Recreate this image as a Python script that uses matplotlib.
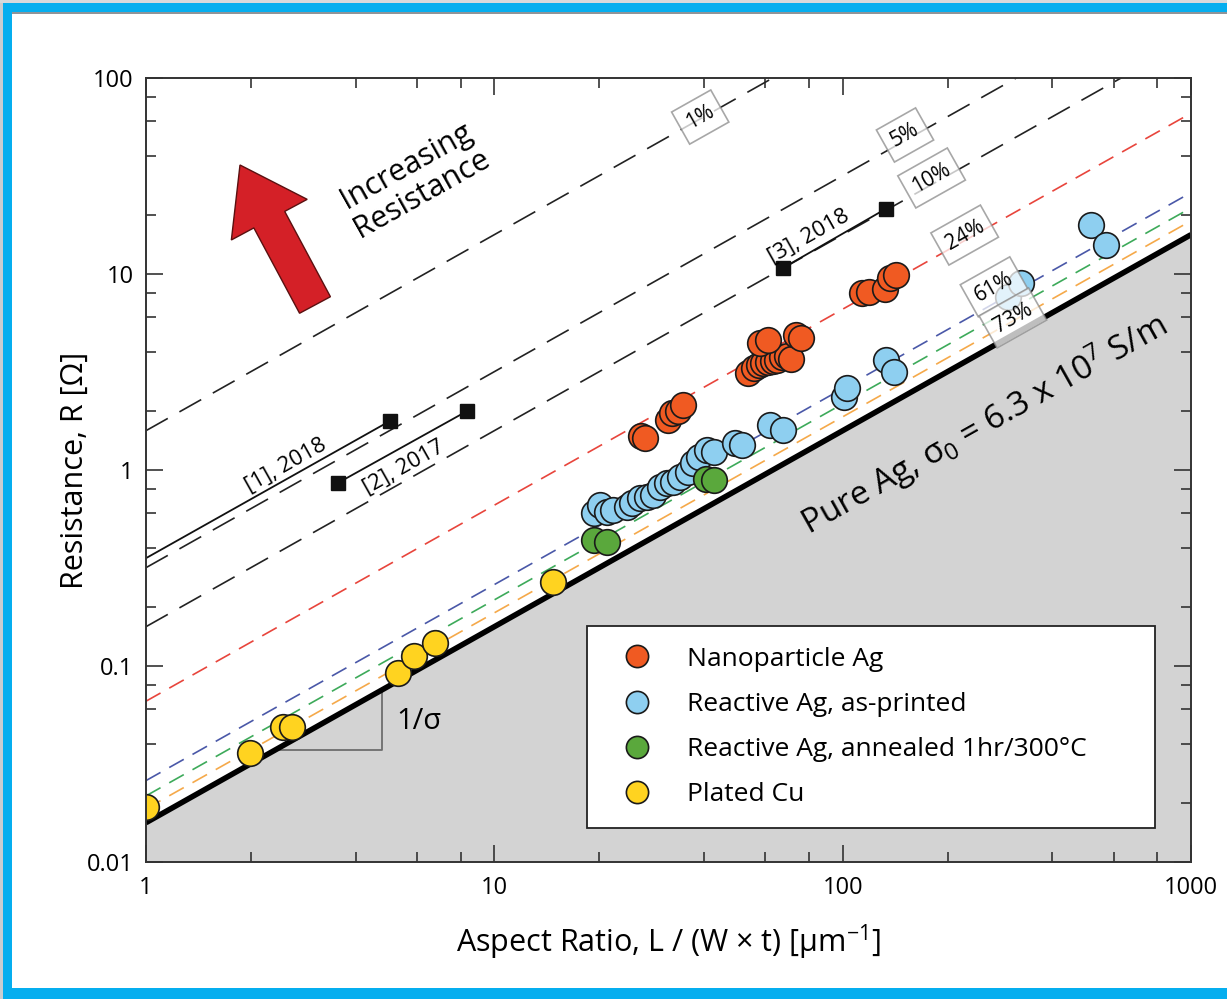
import numpy as np
import matplotlib
matplotlib.use('Agg')
import matplotlib.pyplot as plt
from matplotlib.patches import Rectangle, FancyArrow
from matplotlib.lines import Line2D

plt.rcParams['font.family'] = ['Open Sans', 'DejaVu Sans']
plt.rcParams['mathtext.fontset'] = 'custom'
plt.rcParams['mathtext.rm'] = 'Open Sans'
plt.rcParams['mathtext.it'] = 'Open Sans:italic'

# ---- data ---------------------------------------------------------------
SIGMA0 = 6.3e7                       # S/m, pure Ag
pct_vals = [0.01, 0.05, 0.10, 0.24, 0.61, 0.73, 0.85]
pct_colors = ['#222222', '#222222', '#222222', '#E8453C', '#4A58A8', '#3DAA5A', '#F5A94A']
pct_labels = ['1%', '5%', '10%', '24%', '61%', '73%', None]
pct_lab_x = [39, 151, 180, 224, 272, 308]
pct_lab_y = [63.2, 51.2, 30.9, 15.8, 8.6, 5.97]

np_x = [26.4, 27.1, 31.6, 32.4, 33.7, 34.9, 53.5, 55.6, 57.4, 59, 61, 63, 65, 67, 69, 71,
        58, 60.9, 73.3, 75.8, 114, 118.7, 132, 137, 142]
np_y = [1.49, 1.45, 1.80, 1.95, 2.00, 2.15, 3.13, 3.33, 3.45, 3.50, 3.55, 3.60, 3.65, 3.75, 3.80, 3.70,
        4.45, 4.60, 4.90, 4.70, 8.0, 8.1, 8.4, 9.5, 9.9]

rp_x = [19.3, 20.1, 21.1, 21.9, 24.0, 24.9, 26.2, 27.4, 28.6, 29.9, 31.3, 32.6, 34.2, 35.9, 37.3,
        38.6, 40.9, 42.6, 49.0, 51.4, 61.9, 67.2, 100.7, 103, 133, 140, 298, 325, 516, 570]
rp_y = [0.60, 0.66, 0.61, 0.625, 0.65, 0.68, 0.72, 0.73, 0.745, 0.82, 0.86, 0.87, 0.92, 0.98, 1.09,
        1.16, 1.26, 1.24, 1.37, 1.34, 1.70, 1.60, 2.36, 2.62, 3.64, 3.16, 7.6, 9.0, 17.8, 14.1]

an_x = [19.3, 21.1, 40.4, 42.6]
an_y = [0.44, 0.43, 0.90, 0.89]

cu_x = [1.0, 1.99, 2.48, 2.63, 5.3, 5.89, 6.77, 14.7]
cu_y = [0.019, 0.036, 0.049, 0.049, 0.092, 0.112, 0.131, 0.268]

# literature references: solid segments ending in squares
ref1_x, ref1_y = [1.0, 5.02], [0.355, 1.78]
ref2_x, ref2_y = [3.56, 8.36], [0.86, 2.0]
ref3_x, ref3_y = [67.2, 133], [10.7, 21.5]
ref_labels = ['[1], 2018', '[2], 2017', '[3], 2018']
ref_lab_x = [2.51, 5.48, 79.8]
ref_lab_y = [1.06, 1.04, 15.6]

x_ticks = [1, 10, 100, 1000]
y_ticks = [0.01, 0.1, 1, 10, 100]
y_ticklabels = ['0.01', '0.1', '1', '10', '100']

W, H = 1227, 999
fig = plt.figure(figsize=(W / 100, H / 100), dpi=100)
fig.patch.set_facecolor('#05AEEF')
for r in (Rectangle((12 / W, (H - 988) / H), 1, (988 - 13) / H, fc='white', ec='none'),
          Rectangle((12 / W, 1 - 14 / H), 1, 2 / H, fc='#8f9499', ec='none'),
          Rectangle((0, 0), 3 / W, 1, fc='#C9CDD1', ec='none'),
          Rectangle((0, 1 - 3 / H), 1, 3 / H, fc='#D6D9DC', ec='none')):
    r.set_transform(fig.transFigure)
    r.set_zorder(-10)
    fig.add_artist(r)

ax = fig.add_axes([146 / W, (H - 862) / H, (1191 - 146) / W, (862 - 78) / H])
ax.set_xscale('log'); ax.set_yscale('log')
ax.set_xlim(1, 1000); ax.set_ylim(0.01, 100)
ax.patch.set_alpha(0)

p1 = ax.transData.transform((1, 1)); p2 = ax.transData.transform((10, 10))
ang = np.degrees(np.arctan2(p2[1] - p1[1], p2[0] - p1[0]))

xx = np.array([1.0, 1000.0])
r_bulk = xx * 1e6 / SIGMA0
ax.fill_between(xx, 1e-4, r_bulk, color='#D3D3D3', lw=0, zorder=1)
ax.plot(xx, r_bulk, color='black', lw=4.0, zorder=4, solid_capstyle='butt')

for p, c in zip(pct_vals, pct_colors):
    ln, = ax.plot(xx, r_bulk / p, color=c, lw=1.2, zorder=2)
    if c == '#222222':
        ln.set_dashes((15, 8))
    else:
        ln.set_dashes((10, 6))

for lab, lx, ly in zip(pct_labels[:6], pct_lab_x, pct_lab_y):
    ax.text(lx, ly, lab, rotation=ang, rotation_mode='anchor', ha='center', va='center',
            fontsize=15, zorder=8,
            bbox=dict(boxstyle='square,pad=0.38', fc='white', ec='#8a8a8a', lw=1.2, alpha=0.75))

# reference segments
for rx, ry in ((ref1_x, ref1_y), (ref2_x, ref2_y), (ref3_x, ref3_y)):
    ax.plot(rx, ry, color='#111111', lw=1.3, zorder=5)
ax.plot(ref1_x[1:] + ref2_x + ref3_x, ref1_y[1:] + ref2_y + ref3_y, 's', color='#111111',
        ms=10.5, zorder=6)
for lab, lx, ly in zip(ref_labels, ref_lab_x, ref_lab_y):
    ax.text(lx, ly, lab, rotation=ang, rotation_mode='anchor', ha='center', va='center',
            fontsize=16, zorder=7)

# data points
kw = dict(s=340, edgecolors='#1a1a1a', linewidths=1.2, zorder=6)
ax.scatter(cu_x, cu_y, c='#FFD320', clip_on=True, **kw)
ax.scatter(rp_x, rp_y, c='#8ECFF0', **kw)
ax.scatter(an_x, an_y, c='#5AA83C', **kw)
ax.scatter(np_x, np_y, c='#F05A22', **kw)

# 1/sigma slope triangle
ax.plot([2.35, 4.77, 4.77], [0.0373, 0.0373, 0.0757], color='#6e6e6e', lw=1.3, zorder=3)
ax.text(6.09, 0.0524, '1/σ', fontsize=21, ha='center', va='center', zorder=7)

ax.text(255, 1.7, r'Pure Ag, $\mathregular{\sigma_0}$ = 6.3 x 10$^{7}$ S/m', rotation=ang,
        rotation_mode='anchor', ha='center', va='center', fontsize=24, zorder=7)
ax.text(5.88, 30.2, 'Increasing\nResistance', rotation=ang, rotation_mode='anchor',
        ha='center', va='center', fontsize=22, multialignment='center', linespacing=1.05,
        zorder=7)

arrow = FancyArrow(3.15, 6.94, -0.75, 1.40, width=0.35, head_width=0.86, head_length=0.62,
                   length_includes_head=True, transform=fig.dpi_scale_trans,
                   fc='#D42027', ec='#5a1010', lw=1.0, clip_on=False, zorder=9)
ax.add_patch(arrow)

# axes styling
ax.set_xticks(x_ticks); ax.set_xticklabels([str(t) for t in x_ticks])
ax.set_yticks(y_ticks); ax.set_yticklabels(y_ticklabels)
ax.xaxis.set_minor_locator(matplotlib.ticker.LogLocator(base=10, subs=[2, 4, 6, 8]))
ax.yaxis.set_minor_locator(matplotlib.ticker.LogLocator(base=10, subs=[2, 4, 6, 8]))
ax.xaxis.set_minor_formatter(matplotlib.ticker.NullFormatter())
ax.yaxis.set_minor_formatter(matplotlib.ticker.NullFormatter())
ax.tick_params(which='both', direction='in', top=True, right=True, color='#333333', width=1.2)
ax.tick_params(which='major', length=12, labelsize=17)
ax.tick_params(axis='x', which='major', pad=10)
ax.tick_params(axis='y', which='major', pad=9)
ax.tick_params(which='minor', length=7)
for s in ax.spines.values():
    s.set_color('#333333'); s.set_linewidth(1.4); s.set_zorder(10)

ax.set_xlabel('Aspect Ratio, L / (W × t) [µm$^{-1}$]', fontsize=22, labelpad=16)
ax.set_ylabel('Resistance, R [Ω]', fontsize=22, labelpad=-2)

handles = [Line2D([], [], ls='none', marker='o', ms=16, mfc=c, mec='#1a1a1a', mew=1.2)
           for c in ('#F05A22', '#8ECFF0', '#5AA83C', '#FFD320')]
names = ['Nanoparticle Ag', 'Reactive Ag, as-printed', 'Reactive Ag, annealed 1hr/300°C', 'Plated Cu']
leg = ax.legend(handles, names, loc='lower left', bbox_to_anchor=(0.422, 0.0434, 0.5435, 0.2653),
                mode='expand', fontsize=19, frameon=True, fancybox=False, framealpha=1,
                edgecolor='#222222', labelspacing=0.76, handletextpad=0.8, borderpad=0.8,
                borderaxespad=0, handlelength=2.2)
leg.get_frame().set_linewidth(1.3)
leg.set_zorder(11)

fig.savefig('out.png', dpi=100)
